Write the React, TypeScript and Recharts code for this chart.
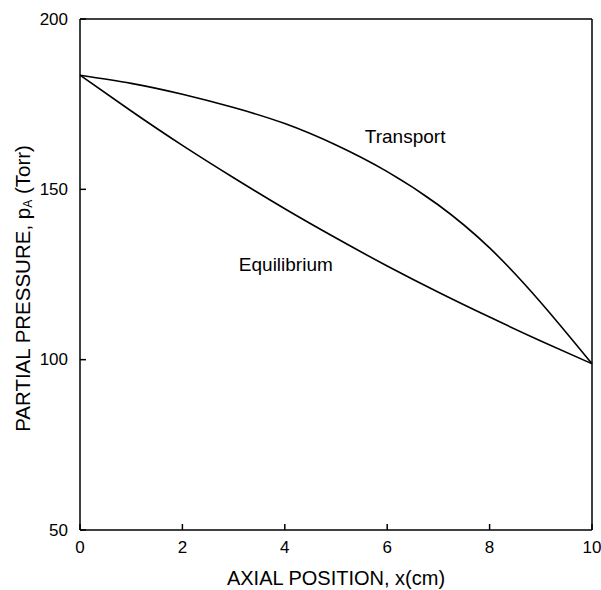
import { LineChart, Line, XAxis, YAxis, ReferenceDot } from "recharts";

const positions = [0, 1, 2, 3, 4, 5, 6, 7, 8, 9, 10];
const transport = [183.5, 181.1, 177.9, 174.0, 169.3, 163.0, 155.2, 145.4, 132.8, 116.8, 98.8];
const equilibrium = [183.5, 173.0, 162.9, 153.4, 144.3, 135.7, 127.5, 119.8, 112.5, 105.5, 98.8];
const xTicks = [0, 2, 4, 6, 8, 10];
const yTicks = [50, 100, 150, 200];

const data = positions.map((x, i) => ({
  x,
  transport: transport[i],
  equilibrium: equilibrium[i],
}));

const FONT = "'Liberation Sans', Arial, Helvetica, sans-serif";

function YTick({ x, y, payload }: any) {
  return (
    <g>
      <line x1={x} x2={x + 6} y1={y} y2={y} stroke="#000" strokeWidth={1.5} />
      <text
        x={x - 12}
        y={y}
        textAnchor="end"
        dominantBaseline="central"
        fontFamily={FONT}
        fontSize={17}
        fill="#000"
      >
        {payload.value}
      </text>
    </g>
  );
}

function XTick({ x, y, payload }: any) {
  return (
    <g>
      <line x1={x} x2={x} y1={y} y2={y - 6} stroke="#000" strokeWidth={1.5} />
      <text
        x={x}
        y={y + 17}
        textAnchor="middle"
        dominantBaseline="central"
        fontFamily={FONT}
        fontSize={17}
        fill="#000"
      >
        {payload.value}
      </text>
    </g>
  );
}

function CurveLabel({ viewBox, text }: any) {
  const cx = viewBox.x + (viewBox.width || 0) / 2;
  const cy = viewBox.y + (viewBox.height || 0) / 2;
  return (
    <text
      x={cx}
      y={cy}
      textAnchor="middle"
      dominantBaseline="central"
      fontFamily={FONT}
      fontSize={19}
      fill="#000"
    >
      {text}
    </text>
  );
}

export default function App() {
  return (
    <div style={{ position: "fixed", left: 0, top: 0, width: 601, height: 590, background: "#fff" }}>
      <LineChart
        width={601}
        height={590}
        data={data}
        margin={{ top: 18, right: 8, bottom: 0, left: 0 }}
      >
        <XAxis
          dataKey="x"
          type="number"
          domain={[0, 10]}
          ticks={xTicks}
          height={60}
          tickSize={0}
          tickMargin={0}
          tickLine={false}
          tick={<XTick />}
          axisLine={{ stroke: "#000", strokeWidth: 1.5 }}
          label={{
            content: ({ viewBox }: any) => (
              <text
                x={viewBox.x + viewBox.width / 2}
                y={578}
                textAnchor="middle"
                dominantBaseline="central"
                fontFamily={FONT}
                fontSize={20}
                fill="#000"
              >
                AXIAL POSITION, x(cm)
              </text>
            ),
          }}
        />
        <XAxis
          xAxisId="top"
          orientation="top"
          dataKey="x"
          type="number"
          domain={[0, 10]}
          height={1}
          tick={false}
          tickLine={false}
          axisLine={{ stroke: "#000", strokeWidth: 1.5 }}
        />
        <YAxis
          type="number"
          domain={[50, 200]}
          ticks={yTicks}
          width={80}
          tickSize={0}
          tickMargin={0}
          tickLine={false}
          tick={<YTick />}
          axisLine={{ stroke: "#000", strokeWidth: 1.5 }}
          label={{
            content: ({ viewBox }: any) => {
              const cy = viewBox.y + viewBox.height / 2 + 14;
              return (
                <text
                  x={22}
                  y={cy}
                  transform={`rotate(-90, 22, ${cy})`}
                  textAnchor="middle"
                  dominantBaseline="central"
                  fontFamily={FONT}
                  fontSize={20.5}
                  fill="#000"
                >
                  PARTIAL PRESSURE, p
                  <tspan fontSize={12} dy={6}>A</tspan>
                  <tspan dy={-6}> (Torr)</tspan>
                </text>
              );
            },
          }}
        />
        <YAxis
          yAxisId="right"
          orientation="right"
          type="number"
          domain={[50, 200]}
          width={1}
          tick={false}
          tickLine={false}
          axisLine={{ stroke: "#000", strokeWidth: 1.5 }}
        />
        <Line
          type="natural"
          dataKey="transport"
          stroke="#000"
          strokeWidth={1.6}
          dot={false}
          isAnimationActive={false}
        />
        <Line
          type="natural"
          dataKey="equilibrium"
          stroke="#000"
          strokeWidth={1.6}
          dot={false}
          isAnimationActive={false}
        />
        <ReferenceDot
          x={6.35}
          y={165.4}
          r={0}
          fill="none"
          stroke="none"
          label={{ content: (p: any) => <CurveLabel {...p} text="Transport" /> }}
        />
        <ReferenceDot
          x={4.02}
          y={127.8}
          r={0}
          fill="none"
          stroke="none"
          label={{ content: (p: any) => <CurveLabel {...p} text="Equilibrium" /> }}
        />
      </LineChart>
    </div>
  );
}
